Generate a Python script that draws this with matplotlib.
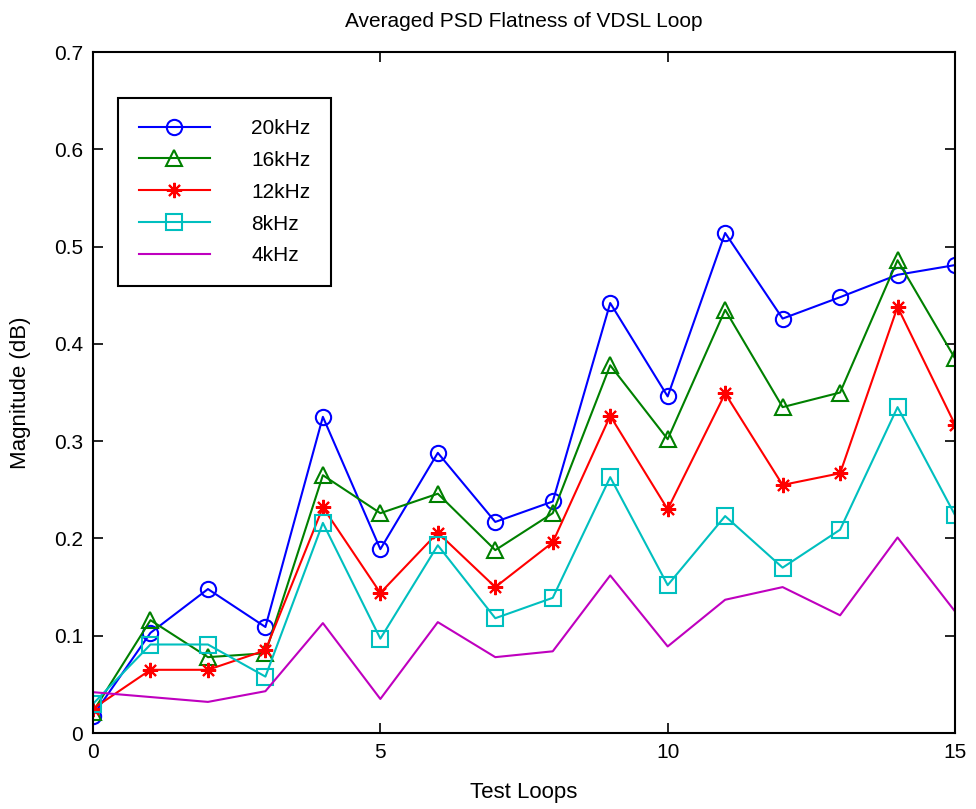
import matplotlib
matplotlib.use("Agg")
import matplotlib.pyplot as plt

plt.rcParams['font.family'] = ['Liberation Sans', 'DejaVu Sans']

# Data
loops = list(range(16))
psd_20k = [0.018, 0.103, 0.148, 0.109, 0.325, 0.189, 0.288, 0.217, 0.238,
           0.442, 0.346, 0.514, 0.426, 0.448, 0.471, 0.481]
psd_16k = [0.022, 0.116, 0.078, 0.082, 0.265, 0.226, 0.246, 0.188, 0.226,
           0.378, 0.302, 0.435, 0.335, 0.350, 0.486, 0.385]
psd_12k = [0.025, 0.065, 0.065, 0.085, 0.232, 0.144, 0.206, 0.150, 0.196,
           0.326, 0.230, 0.349, 0.255, 0.267, 0.438, 0.317]
psd_8k = [0.030, 0.091, 0.091, 0.058, 0.216, 0.097, 0.193, 0.118, 0.139,
          0.263, 0.152, 0.223, 0.170, 0.209, 0.335, 0.224]
psd_4k = [0.042, 0.037, 0.032, 0.043, 0.113, 0.035, 0.114, 0.078, 0.084,
          0.162, 0.089, 0.137, 0.150, 0.121, 0.201, 0.125]

fig = plt.figure(figsize=(9.76, 8.09), dpi=100)
ax = fig.add_axes([0.0953, 0.0939, 0.8832, 0.8418])

lw = 1.5
ms = 11
ax.plot(loops, psd_20k, color='#0000ff', marker='o', ms=ms, mfc='none', mew=1.5, lw=lw, label='20kHz')
ax.plot(loops, psd_16k, color='#008000', marker='^', ms=ms + 1, mfc='none', mew=1.5, lw=lw, label='16kHz')
ax.plot(loops, psd_12k, color='#ff0000', marker=(8, 2, 0), ms=ms, mew=1.5, lw=lw, label='12kHz')
ax.plot(loops, psd_8k, color='#00bfbf', marker='s', ms=ms, mfc='none', mew=1.5, lw=lw, label='8kHz')
ax.plot(loops, psd_4k, color='#bf00bf', lw=lw, label='4kHz')

ax.set_xlim(0, 15)
ax.set_ylim(0, 0.7)
ax.set_xticks([0, 5, 10, 15])
ax.set_yticks([0, 0.1, 0.2, 0.3, 0.4, 0.5, 0.6, 0.7])
ax.set_yticklabels(['0', '0.1', '0.2', '0.3', '0.4', '0.5', '0.6', '0.7'])
ax.tick_params(direction='in', top=True, right=True, length=7, width=1.2, labelsize=15, pad=7)
for s in ax.spines.values():
    s.set_linewidth(1.5)

ax.set_title('Averaged PSD Flatness of VDSL Loop', fontsize=15, pad=18)
ax.set_xlabel('Test Loops', fontsize=16)
ax.set_ylabel('Magnitude (dB)', fontsize=16)
ax.xaxis.set_label_coords(0.5, -0.072)
ax.yaxis.set_label_coords(-0.072, 0.5)

leg = ax.legend(loc='upper left', bbox_to_anchor=(0.029, 0.9325), fontsize=15,
                handlelength=3.4, handletextpad=2.0, labelspacing=0.62,
                borderpad=1.0, borderaxespad=0, fancybox=False,
                edgecolor='black', framealpha=1)
leg.get_frame().set_linewidth(1.5)

fig.savefig('out.png', dpi=100)
